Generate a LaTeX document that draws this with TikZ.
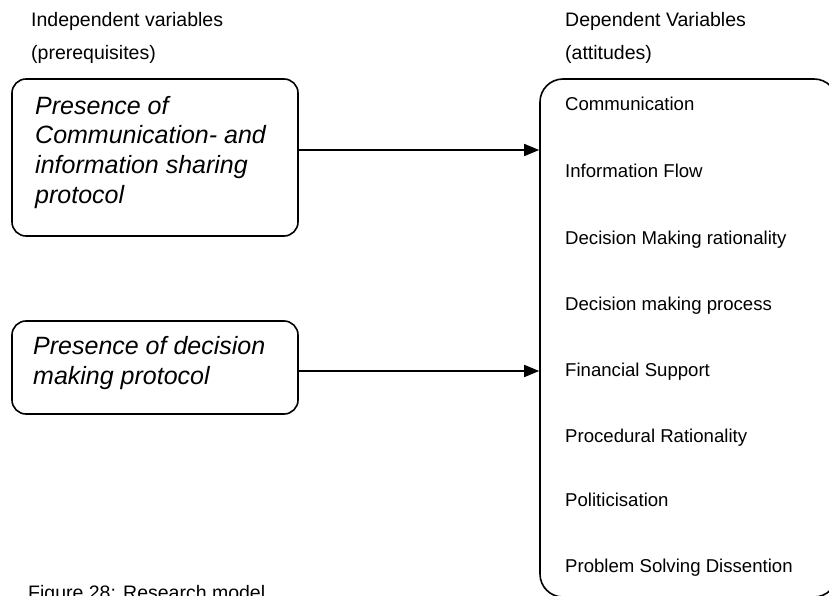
\documentclass[tikz,border=0pt]{standalone}
\usepackage{fontspec}
\setmainfont{Liberation Sans}
\usetikzlibrary{arrows.meta}
\begin{document}
\begin{tikzpicture}[x=1pt,y=-1pt,
  lbl/.style={anchor=base west, inner sep=0pt, font=\fontsize{19.5}{23}\selectfont},
  item/.style={anchor=base west, inner sep=0pt, font=\fontsize{18.6}{22}\selectfont},
  boxtxt/.style={anchor=base west, inner sep=0pt, align=left,
    font=\fontsize{25}{29.5}\selectfont\itshape},
  prereq/.style={draw, line width=1.6pt, rounded corners=14pt, inner sep=0pt},
  attbox/.style={draw, line width=1.6pt, rounded corners=23pt, inner sep=0pt},
  link/.style={line width=1.6pt, -{Triangle[length=15pt,width=12pt]}}]
\useasboundingbox (0,0) rectangle (829,596);
\clip (0,0) rectangle (829,596);

% column headings
\node[lbl] (hIndep) at (31,27) {Independent variables};
\node[lbl] (hPre) at (31,60) {(prerequisites)};
\node[lbl] (hDep) at (565,27) {Dependent Variables};
\node[lbl] (hAtt) at (565,60) {(attitudes)};

% prerequisite boxes (text anchored at the baseline of its last line)
\node[prereq, minimum width=286pt, minimum height=157pt] (b1) at (155,157.5) {};
\node[boxtxt] (t1) at (35,203) {Presence of\\Communication- and\\information sharing\\protocol};
\node[prereq, minimum width=286pt, minimum height=93pt] (b2) at (155,367.5) {};
\node[boxtxt] (t2) at (33,384) {Presence of decision\\making protocol};

% attitudes box
\node[attbox, minimum width=297pt, minimum height=518pt] (dep) at (688.5,338) {};
\node[item] (a1) at (565,111) {Communication};
\node[item] (a2) at (565,178) {Information Flow};
\node[item] (a3) at (565,244) {Decision Making rationality};
\node[item] (a4) at (565,310) {Decision making process};
\node[item] (a5) at (565,376) {Financial Support};
\node[item] (a6) at (565,442) {Procedural Rationality};
\node[item] (a7) at (565,506) {Politicisation};
\node[item] (a8) at (565,572) {Problem Solving Dissention};

% connectors
\draw[link] (b1.east |- 0,150) -- (dep.west |- 0,150);
\draw[link] (b2.east |- 0,371) -- (dep.west |- 0,371);

% caption
\node[lbl] (cap) at (28,599) {Figure 28: Research model};
\end{tikzpicture}
\end{document}
